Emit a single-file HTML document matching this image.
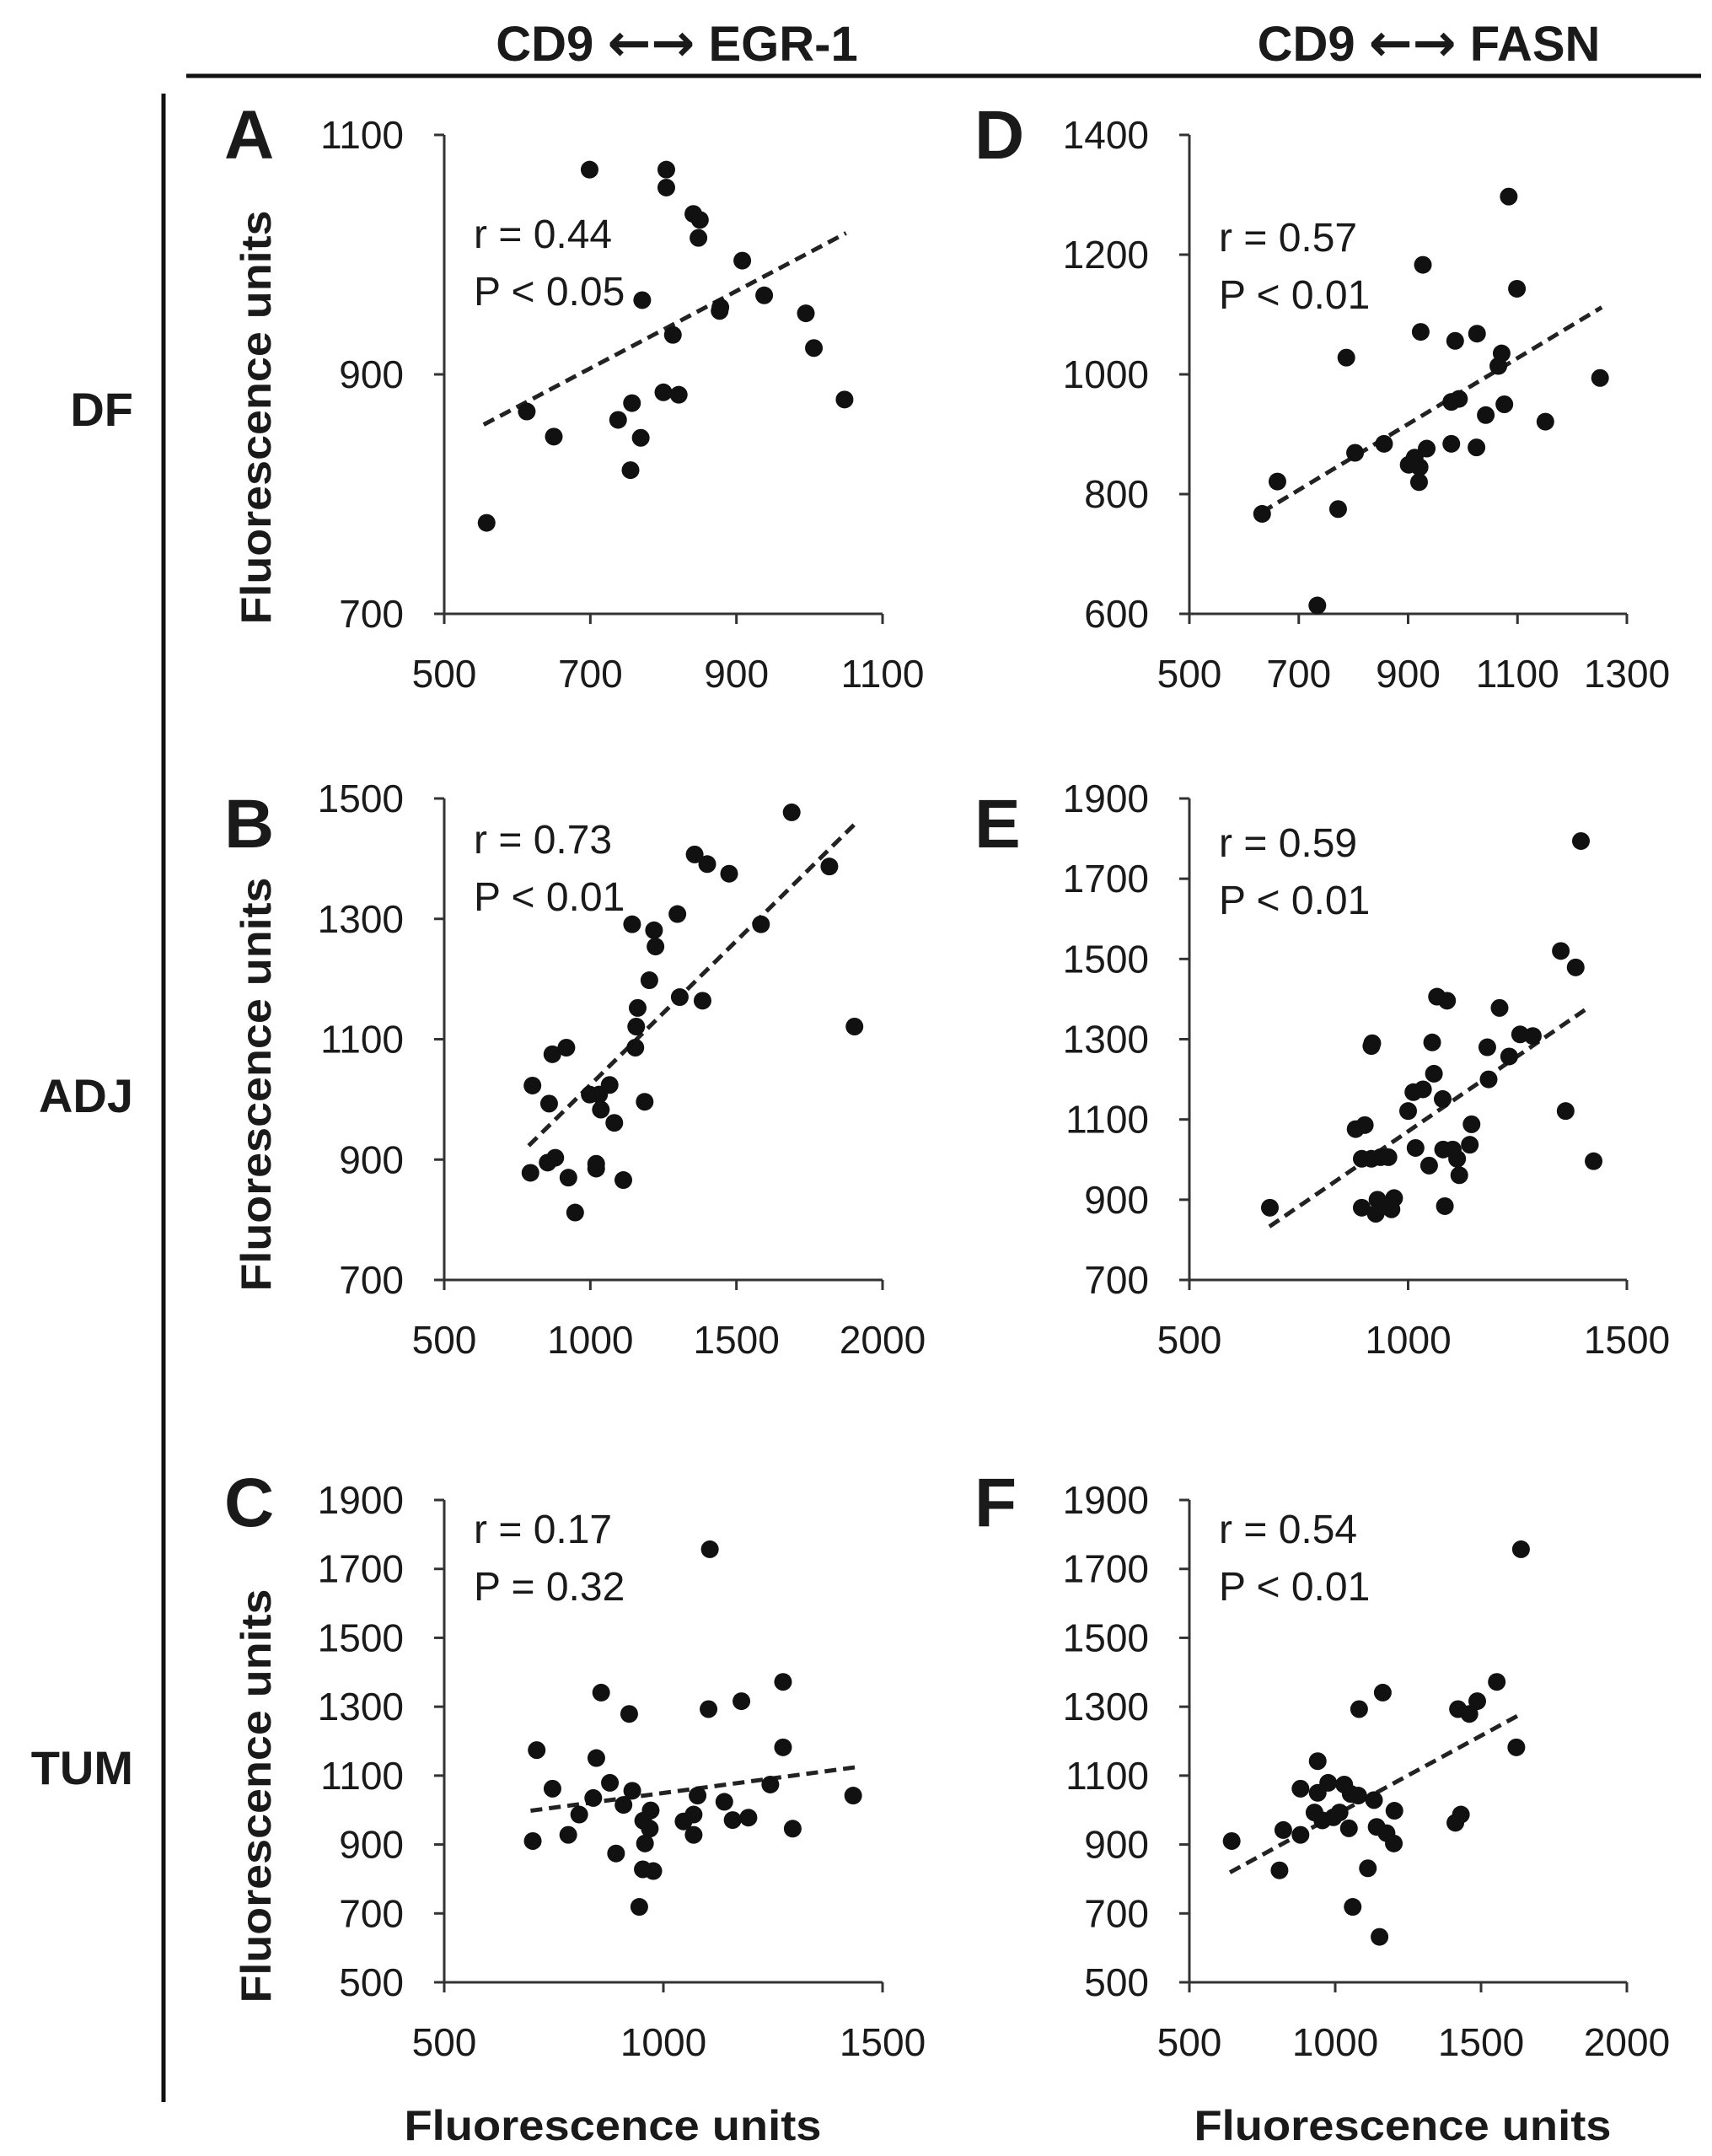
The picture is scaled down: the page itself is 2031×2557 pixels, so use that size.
<!DOCTYPE html>
<html><head><meta charset="utf-8"><style>
html,body{margin:0;padding:0;background:#fff}
svg{display:block}
text{font-family:"Liberation Sans",sans-serif;fill:#1a1a1a}
</style></head><body>
<svg id="fig" xmlns="http://www.w3.org/2000/svg" width="2031" height="2557" viewBox="0 0 2031 2557">
<line x1="221" y1="90" x2="2018" y2="90" stroke="#111" stroke-width="5"/>
<line x1="194" y1="111" x2="194" y2="2493" stroke="#111" stroke-width="5"/>
<text x="803" y="72" text-anchor="middle" font-size="58" font-weight="600">CD9 <tspan font-family="DejaVu Sans" font-size="62">←→</tspan> EGR-1</text>
<text x="1695" y="72" text-anchor="middle" font-size="58" font-weight="600">CD9 <tspan font-family="DejaVu Sans" font-size="62">←→</tspan> FASN</text>
<text x="158" y="505" text-anchor="end" font-size="56" font-weight="bold">DF</text>
<text x="158" y="1319" text-anchor="end" font-size="56" font-weight="bold">ADJ</text>
<text x="158" y="2116" text-anchor="end" font-size="56" font-weight="bold">TUM</text>
<text x="727" y="2538" text-anchor="middle" font-size="50" font-weight="bold" textLength="495" lengthAdjust="spacingAndGlyphs">Fluorescence units</text>
<text x="1664" y="2538" text-anchor="middle" font-size="50" font-weight="bold" textLength="495" lengthAdjust="spacingAndGlyphs">Fluorescence units</text>
<text transform="translate(321,495) rotate(-90)" text-anchor="middle" font-size="50" font-weight="bold" textLength="491" lengthAdjust="spacingAndGlyphs">Fluorescence units</text>
<text transform="translate(321,1286) rotate(-90)" text-anchor="middle" font-size="50" font-weight="bold" textLength="491" lengthAdjust="spacingAndGlyphs">Fluorescence units</text>
<text transform="translate(321,2130) rotate(-90)" text-anchor="middle" font-size="50" font-weight="bold" textLength="491" lengthAdjust="spacingAndGlyphs">Fluorescence units</text>
</svg>
<script>
// Panel A: CD9 vs EGR-1, DF
const aX = [699,804,804,841,850,848,908,771,938,877,878,995,813,1006,800,821,757,1048,613,738,650,769,755,558];
const aY = [1071,1071,1056,1034,1029,1014,995,962,966,953,956,951,933,922,885,883,876,879,869,862,848,847,820,776];
const aTrendX = [554,1050];
const aTrendY = [858,1018];
const aXTicks = [500,700,900,1100];
const aYTicks = [700,900,1100];
// Panel D: CD9 vs FASN, DF
const dX = [1084,927,1099,923,1026,986,787,1071,1065,1251,979,993,1076,1042,1151,856,803,979,1025,934,912,901,921,920,661,633,772,734];
const dY = [1297,1183,1143,1071,1068,1056,1028,1035,1014,994,954,959,950,932,921,884,869,884,878,876,861,849,845,820,821,767,775,614];
const dTrendX = [633,1254];
const dTrendY = [770,1112];
const dXTicks = [500,700,900,1100,1300];
const dYTicks = [600,800,1000,1200,1400];
// Panel B: CD9 vs EGR-1, ADJ
const bX = [1689,1357,1400,1475,1818,1298,1143,1218,1223,1202,1306,1584,1384,1162,1157,1154,1904,870,918,802,859,998,1030,1066,1036,1082,1186,795,854,880,925,1020,1020,1113,948];
const bY = [1477,1407,1391,1375,1387,1308,1291,1281,1254,1198,1170,1291,1164,1152,1121,1086,1121,1075,1086,1023,993,1008,1008,1024,983,961,996,878,895,903,870,893,885,866,812];
const bTrendX = [789,1904];
const bTrendY = [923,1457];
const bXTicks = [500,1000,1500,2000];
const bYTicks = [700,900,1100,1300,1500];
// Panel E: CD9 vs FASN, ADJ
const eX = [684,880,901,918,916,894,916,937,955,894,930,926,951,968,962,1000,1017,1012,1034,1048,1059,1055,1066,1089,1079,1084,1080,1102,1112,1117,1141,1145,1181,1184,1209,1231,1256,1285,1349,1360,1383,1395,1424];
const eY = [880,1076,1086,1290,1283,1002,1002,1006,1006,880,900,865,884,904,876,1121,1029,1168,1175,985,1214,1292,1406,1396,1151,884,1025,1025,1002,961,1037,1088,1280,1200,1378,1257,1312,1308,1520,1121,1479,1794,996];
const eTrendX = [683,1404];
const eTrendY = [833,1373];
const eXTicks = [500,1000,1500];
const eYTicks = [700,900,1100,1300,1500,1700,1900];
// Panel C: CD9 vs EGR-1, TUM
const cX = [1106,1273,858,1178,1103,922,711,1273,847,878,747,1244,929,840,1078,1139,909,808,971,1433,1069,954,1046,1158,1194,969,1069,1295,702,783,958,892,953,977,945];
const cY = [1757,1372,1341,1316,1293,1279,1174,1182,1151,1079,1062,1074,1056,1035,1042,1024,1015,987,999,1042,987,969,967,971,978,946,928,946,910,928,903,874,828,823,719];
const cTrendX = [697,1437];
const cTrendY = [998,1124];
const cXTicks = [500,1000,1500];
const cYTicks = [500,700,900,1100,1300,1500,1700,1900];
// Panel F: CD9 vs FASN, TUM
const fX = [1637,1554,1487,1460,1421,1163,1082,1621,940,881,976,1031,940,1079,1053,1133,1203,929,956,994,1015,1047,1142,1176,1201,822,881,645,809,1112,1431,1412,1060,1152];
const fY = [1757,1372,1316,1279,1293,1341,1293,1182,1142,1062,1079,1074,1050,1042,1047,1029,998,993,970,979,993,947,951,933,903,942,928,910,825,831,987,963,719,632];
const fTrendX = [639,1637];
const fTrendY = [819,1279];
const fXTicks = [500,1000,1500,2000];
const fYTicks = [500,700,900,1100,1300,1500,1700,1900];

const NS = 'http://www.w3.org/2000/svg';
const svg = document.getElementById('fig');
function mk(tag, attrs, parent) {
  const e = document.createElementNS(NS, tag);
  for (const k in attrs) e.setAttribute(k, attrs[k]);
  (parent || svg).appendChild(e);
  return e;
}
function panel(id, letter, box, xs, ys, tx, ty, xt, yt, rTxt, pTxt, letterPos) {
  const g = mk('g', {});
  
  
  const x0 = xt[0], x1 = xt[xt.length - 1], y0 = yt[0], y1 = yt[yt.length - 1];
  const sx = v => box.l + (v - x0) / (x1 - x0) * (box.r - box.l);
  const sy = v => box.b - (v - y0) / (y1 - y0) * (box.b - box.t);
  const ya = mk('line', {x1: box.l, y1: box.t, x2: box.l, y2: box.b, stroke: '#333', 'stroke-width': 3}, g);
  
  
  const xa = mk('line', {x1: box.l, y1: box.b, x2: box.r, y2: box.b, stroke: '#333', 'stroke-width': 3}, g);
  
  
  yt.forEach(v => {
    const y = sy(v);
    const tk = mk('line', {x1: box.l - 12, y1: y, x2: box.l, y2: y, stroke: '#333', 'stroke-width': 3}, g);
    
    
    const t = mk('text', {x: box.l - 48, y: y + 16, 'text-anchor': 'end', 'font-size': 46}, g);
    
    
    t.textContent = v;
  });
  xt.forEach(v => {
    const x = sx(v);
    const tk = mk('line', {x1: x, y1: box.b, x2: x, y2: box.b + 12, stroke: '#333', 'stroke-width': 3}, g);
    
    
    const t = mk('text', {x: x, y: box.b + 87, 'text-anchor': 'middle', 'font-size': 46}, g);
    
    
    t.textContent = v;
  });
  const tl = mk('line', {x1: sx(tx[0]), y1: sy(ty[0]), x2: sx(tx[1]), y2: sy(ty[1]), stroke: '#222', 'stroke-width': 5, 'stroke-dasharray': '14 8'}, g);
  
  
  xs.forEach((v, i) => {
    const c = mk('circle', {cx: sx(v), cy: sy(ys[i]), r: 10.5, fill: '#111'}, g);
    
    
  });
  const r = mk('text', {x: box.l + 35, y: box.rY, 'font-size': 48}, g);
  
  
  r.textContent = rTxt;
  const p = mk('text', {x: box.l + 35, y: box.rY + 68, 'font-size': 48}, g);
  
  
  p.textContent = pTxt;
  const L = mk('text', {x: letterPos[0], y: letterPos[1], 'font-size': 82, 'font-weight': 'bold'}, g);
  
  
  L.textContent = letter;
}
panel('a', 'A', {l: 527, r: 1047, t: 160, b: 728, rY: 294}, aX, aY, aTrendX, aTrendY, aXTicks, aYTicks, 'r = 0.44', 'P < 0.05', [266, 188]);
panel('d', 'D', {l: 1411, r: 1930, t: 160, b: 728, rY: 298}, dX, dY, dTrendX, dTrendY, dXTicks, dYTicks, 'r = 0.57', 'P < 0.01', [1156, 188]);
panel('b', 'B', {l: 527, r: 1047, t: 947, b: 1518, rY: 1012}, bX, bY, bTrendX, bTrendY, bXTicks, bYTicks, 'r = 0.73', 'P < 0.01', [266, 1005]);
panel('e', 'E', {l: 1411, r: 1930, t: 947, b: 1518, rY: 1016}, eX, eY, eTrendX, eTrendY, eXTicks, eYTicks, 'r = 0.59', 'P < 0.01', [1156, 1005]);
panel('c', 'C', {l: 527, r: 1047, t: 1779, b: 2351, rY: 1830}, cX, cY, cTrendX, cTrendY, cXTicks, cYTicks, 'r = 0.17', 'P = 0.32', [266, 1810]);
panel('f', 'F', {l: 1411, r: 1930, t: 1779, b: 2351, rY: 1830}, fX, fY, fTrendX, fTrendY, fXTicks, fYTicks, 'r = 0.54', 'P < 0.01', [1156, 1810]);
</script>
</body></html>
